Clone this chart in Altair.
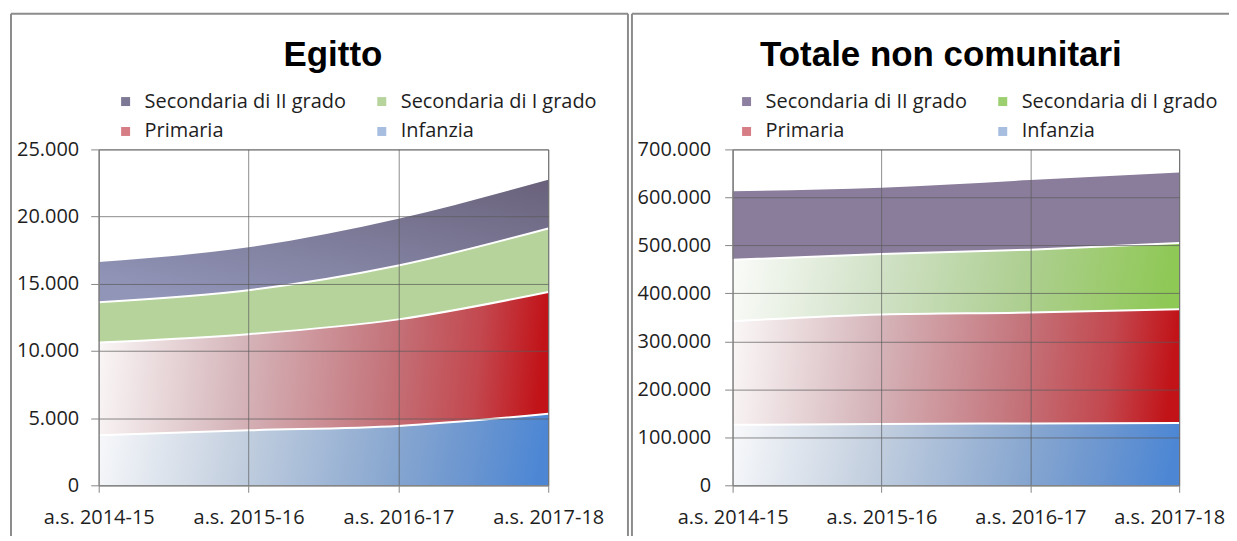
import altair as alt
import pandas as pd

years = ["a.s. 2014-15", "a.s. 2015-16", "a.s. 2016-17", "a.s. 2017-18"]
series = ["Secondaria di II grado", "Secondaria di I grado", "Primaria", "Infanzia"]
legend_order = ["Secondaria di II grado", "Primaria", "Secondaria di I grado", "Infanzia"]

# Egitto
eg_infanzia = [3730, 4090, 4420, 5320]
eg_primaria = [6900, 7160, 7930, 9070]
eg_sec1 = [2990, 3270, 4010, 4730]
eg_sec2 = [3000, 3190, 3480, 3630]

# Totale non comunitari
tot_infanzia = [126000, 128000, 129000, 130000]
tot_primaria = [216000, 228000, 231000, 237000]
tot_sec1 = [128000, 126000, 131000, 138000]
tot_sec2 = [143000, 138000, 145000, 147000]

eg_ticks = [0, 5000, 10000, 15000, 20000, 25000]
tot_ticks = [0, 100000, 200000, 300000, 400000, 500000, 600000, 700000]

FONT = "Open Sans"
TFONT = "Liberation Sans"
FS = 20


def build_df(inf, pri, s1, s2):
    rows = []
    order = {"Infanzia": 0, "Primaria": 1, "Secondaria di I grado": 2, "Secondaria di II grado": 3}
    for name, vals in [("Infanzia", inf), ("Primaria", pri),
                       ("Secondaria di I grado", s1), ("Secondaria di II grado", s2)]:
        for y, v in zip(years, vals):
            rows.append({"year": y, "series": name, "value": v, "order": order[name]})
    return pd.DataFrame(rows)


def grad(stops, x1=0, y1=0, x2=1, y2=0):
    return alt.Gradient(
        gradient="linear",
        stops=[alt.GradientStop(color=c, offset=o) for o, c in stops],
        x1=x1, y1=y1, x2=x2, y2=y2,
    )


GRID = "#5a5a5a"
AXC = "#868686"


def panel(df, title, title_x, ymax, yticks, fills, legend_colors, width,
          y_lab_pad, border_left, border_right, legend_x, right_rule, last_shift):
    height = 337
    base = alt.Chart(df).transform_stack(
        stack="value", groupby=["year"], as_=["y0", "y1"],
        sort=[alt.SortField("order", order="ascending")],
    )
    xenc = alt.X(
        "year:O", sort=years,
        scale=alt.Scale(type="point", padding=0),
        axis=alt.Axis(
            title=None, labelAngle=0, grid=True, gridColor=GRID, gridOpacity=0.7,
            tickSize=7, tickColor=AXC, domainColor=AXC, labelPadding=15,
            labelFont=FONT, labelFontSize=FS, labelColor="#1e1e1e", zindex=1,
            labelOffset={"condition": {"test": "datum.value === '" + years[-1] + "'",
                                       "value": last_shift}, "value": 0},
        ),
    )
    yenc = alt.Y(
        "y1:Q",
        scale=alt.Scale(domain=[0, ymax], nice=False, zero=True),
        axis=alt.Axis(
            title=None, values=yticks, grid=True, gridColor=GRID, gridOpacity=0.7,
            tickSize=8, tickColor=AXC, domainColor=AXC, labelPadding=y_lab_pad,
            labelFont=FONT, labelFontSize=FS, labelColor="#1e1e1e", zindex=1,
            labelExpr="replace(format(datum.value, ','), ',', '.')",
        ),
    )
    layers = []
    for s in series:
        mk = dict(color=fills[s], interpolate="monotone", opacity=1)
        if s != "Secondaria di II grado":
            mk["line"] = alt.OverlayMarkDef(color="white", strokeWidth=2, interpolate="monotone")
        layers.append(
            base.transform_filter(alt.datum.series == s)
            .mark_area(**mk)
            .encode(x=xenc, y=yenc, y2="y0:Q")
        )
    # legend carrier (no rows drawn)
    leg = alt.Chart(df).transform_filter("datum.order < 0").mark_square().encode(
        x=alt.X("year:O", sort=years),
        y=alt.Y("value:Q"),
        color=alt.Color(
            "series:N",
            scale=alt.Scale(domain=legend_order, range=legend_colors),
            legend=alt.Legend(
                title=None, orient="none", legendX=legend_x, legendY=-58,
                columns=2, columnPadding=25, rowPadding=10, padding=0,
                symbolType="square", symbolSize=81, symbolStrokeWidth=0,
                symbolOpacity=1, labelOffset=9, labelLimit=400,
                labelFont=FONT, labelFontSize=FS, labelColor="#1e1e1e",
                labelBaseline="middle",
            ),
        ),
    )
    layers.append(leg)
    one = alt.Data(values=[{"k": 1}])
    ttl = alt.Chart(one).mark_text(
        text=title, font=TFONT, fontSize=35, fontWeight="bold", color="#000000",
        align="center", baseline="alphabetic",
    ).encode(x=alt.value(title_x), y=alt.value(-84))
    layers.append(ttl)
    bc = "#8c8c8c"
    top = -136
    bottom = 400
    rules = [
        alt.Chart(one).mark_rule(color=bc, strokeWidth=2).encode(
            x=alt.value(border_left), x2=alt.value(border_right),
            y=alt.value(top), y2=alt.value(top)),
        alt.Chart(one).mark_rule(color=bc, strokeWidth=2).encode(
            x=alt.value(border_left), x2=alt.value(border_left),
            y=alt.value(top), y2=alt.value(bottom)),
    ]
    if right_rule:
        rules.append(
            alt.Chart(one).mark_rule(color=bc, strokeWidth=2).encode(
                x=alt.value(border_right), x2=alt.value(border_right),
                y=alt.value(top), y2=alt.value(bottom)))
    layers.extend(rules)
    return alt.layer(*layers).properties(width=width, height=height)


primaria_fill = grad([(0, "#fbf8f8"), (0.33, "#d5b5ba"), (0.66, "#c4737a"), (0.86, "#c3474e"),
                      (1, "#c11318")], x1=0, y1=0, x2=1, y2=0.03)
infanzia_fill = grad([(0, "#f8f9fb"), (0.33, "#c3cfdf"), (0.66, "#8aa8d0"), (0.86, "#6894d0"),
                      (1, "#4d87d4")], x1=0, y1=0, x2=1, y2=0.03)

eg_fills = {
    "Secondaria di II grado": grad([(0, "#69617a"), (1, "#9195b8")], x1=1, y1=0, x2=0.2, y2=1),
    "Secondaria di I grado": "#b5d39a",
    "Primaria": primaria_fill,
    "Infanzia": infanzia_fill,
}
tot_fills = {
    "Secondaria di II grado": "#8a7d9b",
    "Secondaria di I grado": grad([(0, "#fbfcfa"), (0.33, "#d2e2c8"), (0.66, "#aecf92"),
                                   (0.86, "#9ccb6d"), (1, "#8ec855")], x1=0, y1=0, x2=1, y2=0.03),
    "Primaria": primaria_fill,
    "Infanzia": infanzia_fill,
}

eg = panel(build_df(eg_infanzia, eg_primaria, eg_sec1, eg_sec2), "Egitto", 235, 25000, eg_ticks,
           eg_fills, ["#7d7893", "#d77d86", "#b6d49c", "#a7bee0"], 451, 12, -88, 531, 17, True, 0)
tot = panel(build_df(tot_infanzia, tot_primaria, tot_sec1, tot_sec2), "Totale non comunitari", 209,
            700000, tot_ticks, tot_fills, ["#8c7fa0", "#d77d86", "#9ccf6f", "#a7bee0"], 448, 14,
            -101, 514, 4, False, -10)

chart = alt.hconcat(eg, tot, spacing=0).resolve_scale(y="independent", color="independent") \
    .properties(padding={"left": 1, "top": 3, "right": -18, "bottom": -15}) \
    .configure_view(stroke=AXC, strokeWidth=1)

chart.save("out.html", embed_options={"renderer": "svg", "actions": False})
